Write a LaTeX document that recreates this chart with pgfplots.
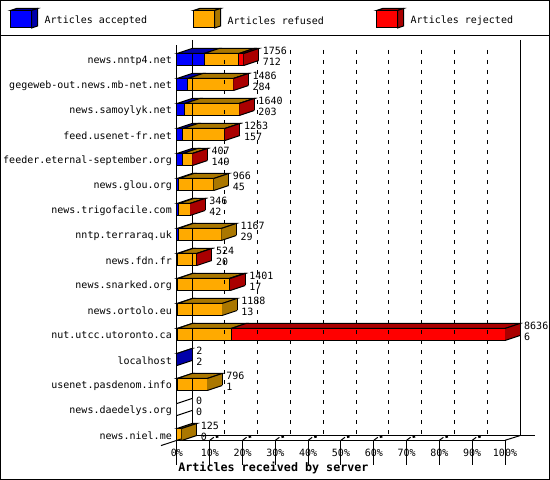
\documentclass[border=0pt]{standalone}
\usepackage{fontspec}
\setmainfont{DejaVu Sans Mono}
\usepackage{pgfplots}
\usepackage{pgfplotstable}
\pgfplotsset{compat=1.18}
\definecolor{cblue}{HTML}{0000FF}\definecolor{dblue}{HTML}{0000AA}
\definecolor{corange}{HTML}{FFAA00}\definecolor{dorange}{HTML}{AA7700}
\definecolor{cred}{HTML}{FF0000}\definecolor{dred}{HTML}{AA0000}
\newcommand{\px}{\fontsize{10}{10}\selectfont}
\pgfplotstableread{
y  acc ref  rej  total
16 712 920  124  1756
15 284 1200 2    1486
14 203 1435 2    1640
13 157 1104 2    1263
12 149 256  2    407
11 45  921  0    966
10 42  302  2    346
9  29  1138 0    1167
8  20  502  2    524
7  17  1360 24   1401
6  13  1175 0    1188
5  6   1416 7214 8636
4  2   0    0    2
3  1   795  0    796
2  0   0    0    0
1  0   125  0    125
}\T
\begin{document}
\begin{tikzpicture}[x=1pt,y=1pt]
\path[use as bounding box] (0,0) rectangle (550,480);
\draw[line width=1pt] (0.5,0.5) rectangle (549.5,479.5);
\draw[line width=1pt] (0.5,444.5) -- (549.5,444.5);
\begin{axis}[
  at={(177pt,39.7pt)},anchor=origin,
  scale only axis,width=328pt,height=395.3pt,
  clip=false,
  xmin=0,xmax=8636,ymin=0.768,ymax=16.58,
  axis x line=bottom,axis y line=left,
  axis line style={-,line width=1pt,black},
  xbar stacked,bar width=12pt,
  xtick={0,863.6,1727.2,2590.8,3454.4,4318,5181.6,6045.2,6908.8,7772.4,8636},
  xticklabels={0\%,10\%,20\%,30\%,40\%,50\%,60\%,70\%,80\%,90\%,100\%},
  ytick={1,...,16},
  yticklabels={news.niel.me,news.daedelys.org,usenet.pasdenom.info,localhost,nut.utcc.utoronto.ca,news.ortolo.eu,news.snarked.org,news.fdn.fr,nntp.terraraq.uk,news.trigofacile.com,news.glou.org,feeder.eternal-september.org,feed.usenet-fr.net,news.samoylyk.net,gegeweb-out.news.mb-net.net,news.nntp4.net},
  tick label style={font=\px,black},
  y tick style={draw=none},
  major tick length=0pt,
  x tick style={draw=none},
  ytick pos=left,xtick pos=bottom,
  yticklabel style={anchor=east,inner sep=0pt,xshift=-5pt,yshift=-1pt},
  xticklabel style={anchor=center,inner sep=0pt,yshift=-12.5pt},
  xlabel={Articles received by server},
  xlabel style={at={(axis description cs:0.294,0)},anchor=center,yshift=-28pt,inner sep=0pt,font=\fontsize{11.7}{12}\selectfont\bfseries},
]
% walls, floor and dashed grid
\pgfplotsextra{
  \draw[line width=1pt] (axis cs:395,16.78) -- (axis cs:395,0.956);
  \draw[line width=1pt] (axis cs:9031,16.78) -- (axis cs:9031,0.956);
  \draw[line width=1pt] (axis cs:395,0.956) -- (axis cs:9426,0.956);
  \draw[line width=1pt] (axis cs:-421,0.556) -- (axis cs:0,0.768) -- (axis cs:395,0.956);
  \draw[line width=1pt] (axis cs:8636,0.768) -- (axis cs:9031,0.956);
  \foreach \k in {0,...,10}{
    \pgfmathsetmacro\xk{863.6*\k}
    \draw[line width=1pt] (axis cs:\xk,0.768) -- ++(0,-6pt);
  }
  \foreach \k in {1,...,9}{
    \pgfmathsetmacro\xk{863.6*\k}
    \pgfmathsetmacro\xg{\xk+395}
    \draw[line width=1pt,dash pattern=on 4pt off 6pt] (axis cs:\xg,16.38) -- (axis cs:\xg,0.956);
    \draw[line width=1pt] (axis cs:\xk,0.768) -- ++(4pt,3pt);
    \draw[line width=2.5pt] (axis cs:\xk,0.768) ++(6pt,3.5pt) -- ++(2.5pt,0.5pt);
  }
  % depth faces of every row, from the table
  \foreach \i in {0,...,15}{
    \pgfplotstablegetelem{\i}{y}\of\T \let\yy\pgfplotsretval
    \pgfplotstablegetelem{\i}{acc}\of\T \let\va\pgfplotsretval
    \pgfplotstablegetelem{\i}{ref}\of\T \let\vb\pgfplotsretval
    \pgfplotstablegetelem{\i}{rej}\of\T \let\vc\pgfplotsretval
    \pgfmathsetmacro\xa{\va}
    \pgfmathsetmacro\xb{\va+\vb}
    \pgfmathsetmacro\xc{\va+\vb+\vc}
    \pgfmathsetmacro\yf{\yy-0.24}\pgfmathsetmacro\yb{\yy+0.24}
    \pgfmathsetmacro\yg{\yy-0.04}\pgfmathsetmacro\yh{\yy+0.44}
    \pgfmathsetmacro\xaa{\xa+395}\pgfmathsetmacro\xbb{\xb+395}\pgfmathsetmacro\xcc{\xc+395}
    \ifdim\xa pt>0pt
      \fill[dblue,draw=black,line width=1pt] (axis cs:0,\yb) -- (axis cs:395,\yh) -- (axis cs:\xaa,\yh) -- (axis cs:\xa,\yb) -- cycle;
    \fi
    \ifdim\vb pt>0pt
      \fill[dorange,draw=black,line width=1pt] (axis cs:\xa,\yb) -- (axis cs:\xaa,\yh) -- (axis cs:\xbb,\yh) -- (axis cs:\xb,\yb) -- cycle;
    \fi
    \ifdim\vc pt>0pt
      \fill[dred,draw=black,line width=1pt] (axis cs:\xb,\yb) -- (axis cs:\xbb,\yh) -- (axis cs:\xcc,\yh) -- (axis cs:\xc,\yb) -- cycle;
    \fi
    \ifdim\vc pt>0pt \def\sidecol{dred}\else
      \ifdim\vb pt>0pt \def\sidecol{dorange}\else
        \ifdim\va pt>0pt \def\sidecol{dblue}\else \def\sidecol{white}\fi\fi\fi
    \fill[\sidecol] (axis cs:\xc,\yf) -- (axis cs:\xcc,\yg) -- (axis cs:\xcc,\yh) -- (axis cs:\xc,\yb) -- cycle;
    \draw[line width=1pt] (axis cs:\xc,\yf) -- (axis cs:\xcc,\yg);
    \draw[line width=1pt] (axis cs:\xc,\yb) -- (axis cs:\xcc,\yh);
    \ifdim\xc pt>0pt
      \draw[line width=1pt] (axis cs:\xcc,\yg) -- (axis cs:\xcc,\yh);
    \fi
  }
}
\addplot+[xbar stacked,fill=cblue,draw=black,line width=1pt,mark=none] table[x=acc,y=y] {\T};
\addplot+[xbar stacked,fill=corange,draw=black,line width=1pt,mark=none] table[x=ref,y=y] {\T};
\addplot+[xbar stacked,fill=cred,draw=black,line width=1pt,mark=none] table[x=rej,y=y] {\T};
% value labels
\pgfplotsextra{
  \foreach \i in {0,...,15}{
    \pgfplotstablegetelem{\i}{y}\of\T \let\yy\pgfplotsretval
    \pgfplotstablegetelem{\i}{acc}\of\T \let\va\pgfplotsretval
    \pgfplotstablegetelem{\i}{total}\of\T \let\vt\pgfplotsretval
    \pgfmathsetmacro\xl{\vt+395}
    \pgfmathsetmacro\ya{\yy+0.34}\pgfmathsetmacro\yz{\yy-0.10}
    \node[anchor=west,inner sep=0pt,font=\px,xshift=4pt] at (axis cs:\xl,\ya) {\vt};
    \node[anchor=west,inner sep=0pt,font=\px,xshift=4pt] at (axis cs:\xl,\yz) {\va};
  }
}
\end{axis}
% legend
\foreach \x/\c/\d/\t in {10.5/cblue/dblue/accepted,193.5/corange/dorange/refused,376.5/cred/dred/rejected}{
  \fill[\d,draw=black,line width=1pt] (\x,469.5) -- ++(6,2) -- ++(21,0) -- ++(-6,-2) -- cycle;
  \fill[\d,draw=black,line width=1pt] (\x+21,452) -- ++(6,2) -- ++(0,17.5) -- ++(-6,-2) -- cycle;
  \fill[\c,draw=black,line width=1pt] (\x,452) rectangle ++(21,17.5);
  \node[anchor=west,inner sep=0pt,font=\px] at (\x+34,459) {Articles \t};
}
\end{tikzpicture}
\end{document}
